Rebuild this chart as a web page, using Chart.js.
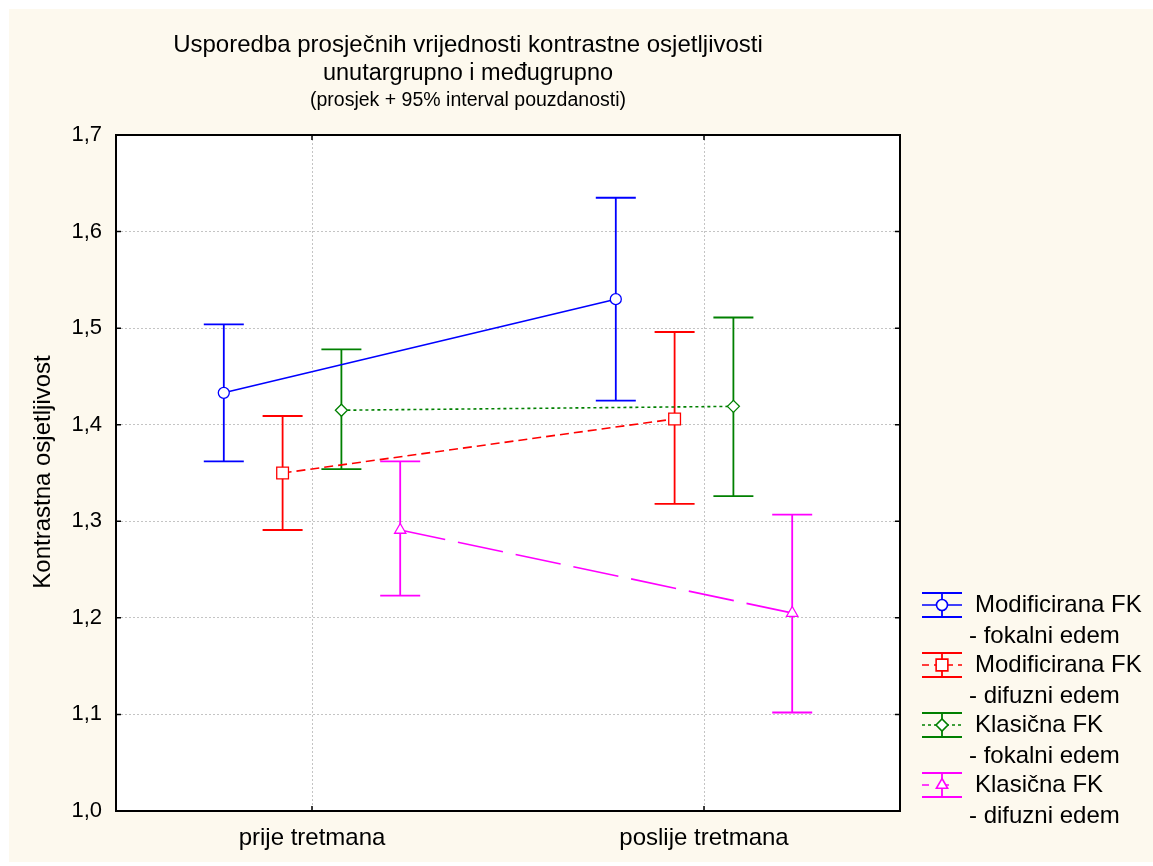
<!DOCTYPE html>
<html>
<head>
<meta charset="utf-8">
<script src="https://cdn.jsdelivr.net/npm/chart.js@4.4.1/dist/chart.umd.min.js"></script>
<style>
  html, body { margin: 0; padding: 0; background: #ffffff; }
  #wrap { width: 1153px; height: 866px; }
</style>
</head>
<body>
<div id="wrap"><canvas id="myChart" width="1153" height="866"></canvas></div>
<script>
// podaci
const categories = ['prije tretmana', 'poslije tretmana'];
const yTicks = [1.0, 1.1, 1.2, 1.3, 1.4, 1.5, 1.6, 1.7];

const modFokMean = [1.433, 1.530];
const modFokLow = [1.362, 1.425];
const modFokHigh = [1.504, 1.635];

const modDifMean = [1.350, 1.406];
const modDifLow = [1.291, 1.318];
const modDifHigh = [1.409, 1.496];

const klaFokMean = [1.415, 1.419];
const klaFokLow = [1.354, 1.326];
const klaFokHigh = [1.478, 1.511];

const klaDifMean = [1.291, 1.205];
const klaDifLow = [1.223, 1.102];
const klaDifHigh = [1.362, 1.307];

const FONT = '"Liberation Sans", Arial, Helvetica, sans-serif';
const CREAM = '#fdf9ee';

// izgled serija
const series = [
    { label: ['Modificirana FK', '- fokalni edem'], mean: modFokMean, low: modFokLow, high: modFokHigh,
      color: '#0000ff', dash: [], point: 'circle', radius: 5.5, offset: -0.225 },
    { label: ['Modificirana FK', '- difuzni edem'], mean: modDifMean, low: modDifLow, high: modDifHigh,
      color: '#ff0000', dash: [9, 5], point: 'rect', radius: 8.3, offset: -0.075 },
    { label: ['Klasična FK', '- fokalni edem'], mean: klaFokMean, low: klaFokLow, high: klaFokHigh,
      color: '#008000', dash: [3, 3], point: 'rectRot', radius: 6, offset: 0.075 },
    { label: ['Klasična FK', '- difuzni edem'], mean: klaDifMean, low: klaDifLow, high: klaDifHigh,
      color: '#ff00ff', dash: [46, 13], point: 'triangle', radius: 6.5, offset: 0.225 }
];

const datasets = series.map(s => ({
    label: s.label.join(' '),
    data: categories.map((c, i) => ({ x: i + 1 + s.offset, y: s.mean[i] })),
    borderColor: s.color,
    borderWidth: 1.6,
    borderDash: s.dash,
    backgroundColor: '#ffffff',
    pointStyle: s.point,
    pointRadius: s.radius,
    pointBorderWidth: 1.3,
    pointBorderColor: s.color,
    pointBackgroundColor: '#ffffff',
    tension: 0
}));

// pozadina
const bgPlugin = {
    id: 'bg',
    beforeDraw(chart) {
        const ctx = chart.ctx;
        const a = chart.chartArea;
        ctx.save();
        ctx.fillStyle = '#ffffff';
        ctx.fillRect(0, 0, chart.width, chart.height);
        ctx.fillStyle = CREAM;
        ctx.fillRect(9, 9, chart.width - 9, chart.height - 13);
        ctx.fillStyle = '#ffffff';
        ctx.fillRect(a.left, a.top, a.right - a.left, a.bottom - a.top);
        ctx.restore();
    }
};

// intervali pouzdanosti
const errorBars = {
    id: 'errorBars',
    beforeDatasetsDraw(chart) {
        const ctx = chart.ctx;
        const xs = chart.scales.x, ys = chart.scales.y;
        ctx.save();
        series.forEach(s => {
            ctx.strokeStyle = s.color;
            ctx.lineWidth = 1.8;
            categories.forEach((c, i) => {
                const px = xs.getPixelForValue(i + 1 + s.offset);
                const yl = ys.getPixelForValue(s.low[i]);
                const yh = ys.getPixelForValue(s.high[i]);
                ctx.beginPath();
                ctx.moveTo(px, yh); ctx.lineTo(px, yl);
                ctx.moveTo(px - 20, yh); ctx.lineTo(px + 20, yh);
                ctx.moveTo(px - 20, yl); ctx.lineTo(px + 20, yl);
                ctx.stroke();
            });
        });
        ctx.restore();
    }
};

// okvir, naslovi, legenda
const decor = {
    id: 'decor',
    afterDraw(chart) {
        const ctx = chart.ctx;
        const a = chart.chartArea;
        const xs = chart.scales.x, ys = chart.scales.y;
        ctx.save();

        // okvir
        ctx.strokeStyle = '#000';
        ctx.lineWidth = 2;
        ctx.setLineDash([]);
        ctx.strokeRect(a.left, a.top, a.right - a.left, a.bottom - a.top);
        ctx.lineWidth = 1.5;
        ctx.beginPath();
        yTicks.forEach(v => {
            const y = ys.getPixelForValue(v);
            ctx.moveTo(a.left, y); ctx.lineTo(a.left + 5, y);
            ctx.moveTo(a.right, y); ctx.lineTo(a.right - 5, y);
        });
        categories.forEach((c, i) => {
            const x = xs.getPixelForValue(i + 1);
            ctx.moveTo(x, a.bottom); ctx.lineTo(x, a.bottom - 5);
            ctx.moveTo(x, a.top); ctx.lineTo(x, a.top + 5);
        });
        ctx.stroke();

        // naslov
        ctx.fillStyle = '#000';
        ctx.textAlign = 'center';
        ctx.textBaseline = 'middle';
        ctx.font = '24px ' + FONT;
        ctx.fillText('Usporedba prosječnih vrijednosti kontrastne osjetljivosti', 468, 45);
        ctx.font = '23.5px ' + FONT;
        ctx.fillText('unutargrupno i međugrupno', 468, 74);
        ctx.font = '19.5px ' + FONT;
        ctx.fillText('(prosjek + 95% interval pouzdanosti)', 468, 101);

        // naslov osi y
        ctx.save();
        ctx.translate(43, 472);
        ctx.rotate(-Math.PI / 2);
        ctx.font = '24px ' + FONT;
        ctx.fillText('Kontrastna osjetljivost', 0, 0);
        ctx.restore();

        // legenda
        ctx.textAlign = 'left';
        ctx.font = '24px ' + FONT;
        series.forEach((s, k) => {
            const cy = 605 + k * 60;
            ctx.strokeStyle = s.color;
            ctx.lineWidth = 1.8;
            ctx.setLineDash([]);
            ctx.beginPath();
            ctx.moveTo(922, cy - 12); ctx.lineTo(962, cy - 12);
            ctx.moveTo(922, cy + 12); ctx.lineTo(962, cy + 12);
            ctx.moveTo(942, cy - 12); ctx.lineTo(942, cy + 12);
            ctx.stroke();
            ctx.lineWidth = 1.6;
            ctx.setLineDash(s.dash.length ? [Math.min(s.dash[0], 7), s.dash[1]] : []);
            ctx.beginPath();
            ctx.moveTo(922, cy); ctx.lineTo(962, cy);
            ctx.stroke();
            ctx.setLineDash([]);
            ctx.fillStyle = '#fff';
            ctx.strokeStyle = s.color;
            Chart.helpers.drawPoint(ctx, { pointStyle: s.point, radius: s.radius, rotation: 0, borderWidth: 1.3 }, 942, cy);
            ctx.fillStyle = '#000';
            ctx.fillText(s.label[0], 975, cy);
            ctx.fillText(s.label[1], 969, cy + 31);
        });
        ctx.restore();
    }
};

var ctx = document.getElementById('myChart');
var myChart = new Chart(ctx, {
    type: 'line',
    data: { datasets: datasets },
    plugins: [bgPlugin, errorBars, decor],
    options: {
        responsive: false,
        animation: false,
        layout: { padding: { top: 135, right: 253, left: 0, bottom: 0 } },
        plugins: {
            legend: { display: false },
            title: { display: false },
            tooltip: { enabled: false }
        },
        scales: {
            x: {
                type: 'linear',
                min: 0.5,
                max: 2.5,
                afterBuildTicks: axis => { axis.ticks = categories.map((c, i) => ({ value: i + 1 })); },
                afterFit: axis => { axis.height = 55; },
                ticks: {
                    callback: (v, i) => categories[i],
                    color: '#000',
                    font: { size: 24, family: FONT },
                    padding: 13
                },
                grid: { color: '#c4c4c4', lineWidth: 1, drawTicks: false },
                border: { color: '#000', width: 2, dash: [2, 2] }
            },
            y: {
                min: 1.0,
                max: 1.7,
                afterBuildTicks: axis => { axis.ticks = yTicks.map(v => ({ value: v })); },
                afterFit: axis => { axis.width = 116; },
                ticks: {
                    callback: v => v.toFixed(1).replace('.', ','),
                    color: '#000',
                    font: { size: 22, family: FONT },
                    padding: 14
                },
                grid: { color: '#c4c4c4', lineWidth: 1, drawTicks: false },
                border: { color: '#000', width: 2, dash: [2, 2] }
            }
        }
    }
});
</script>
</body>
</html>
